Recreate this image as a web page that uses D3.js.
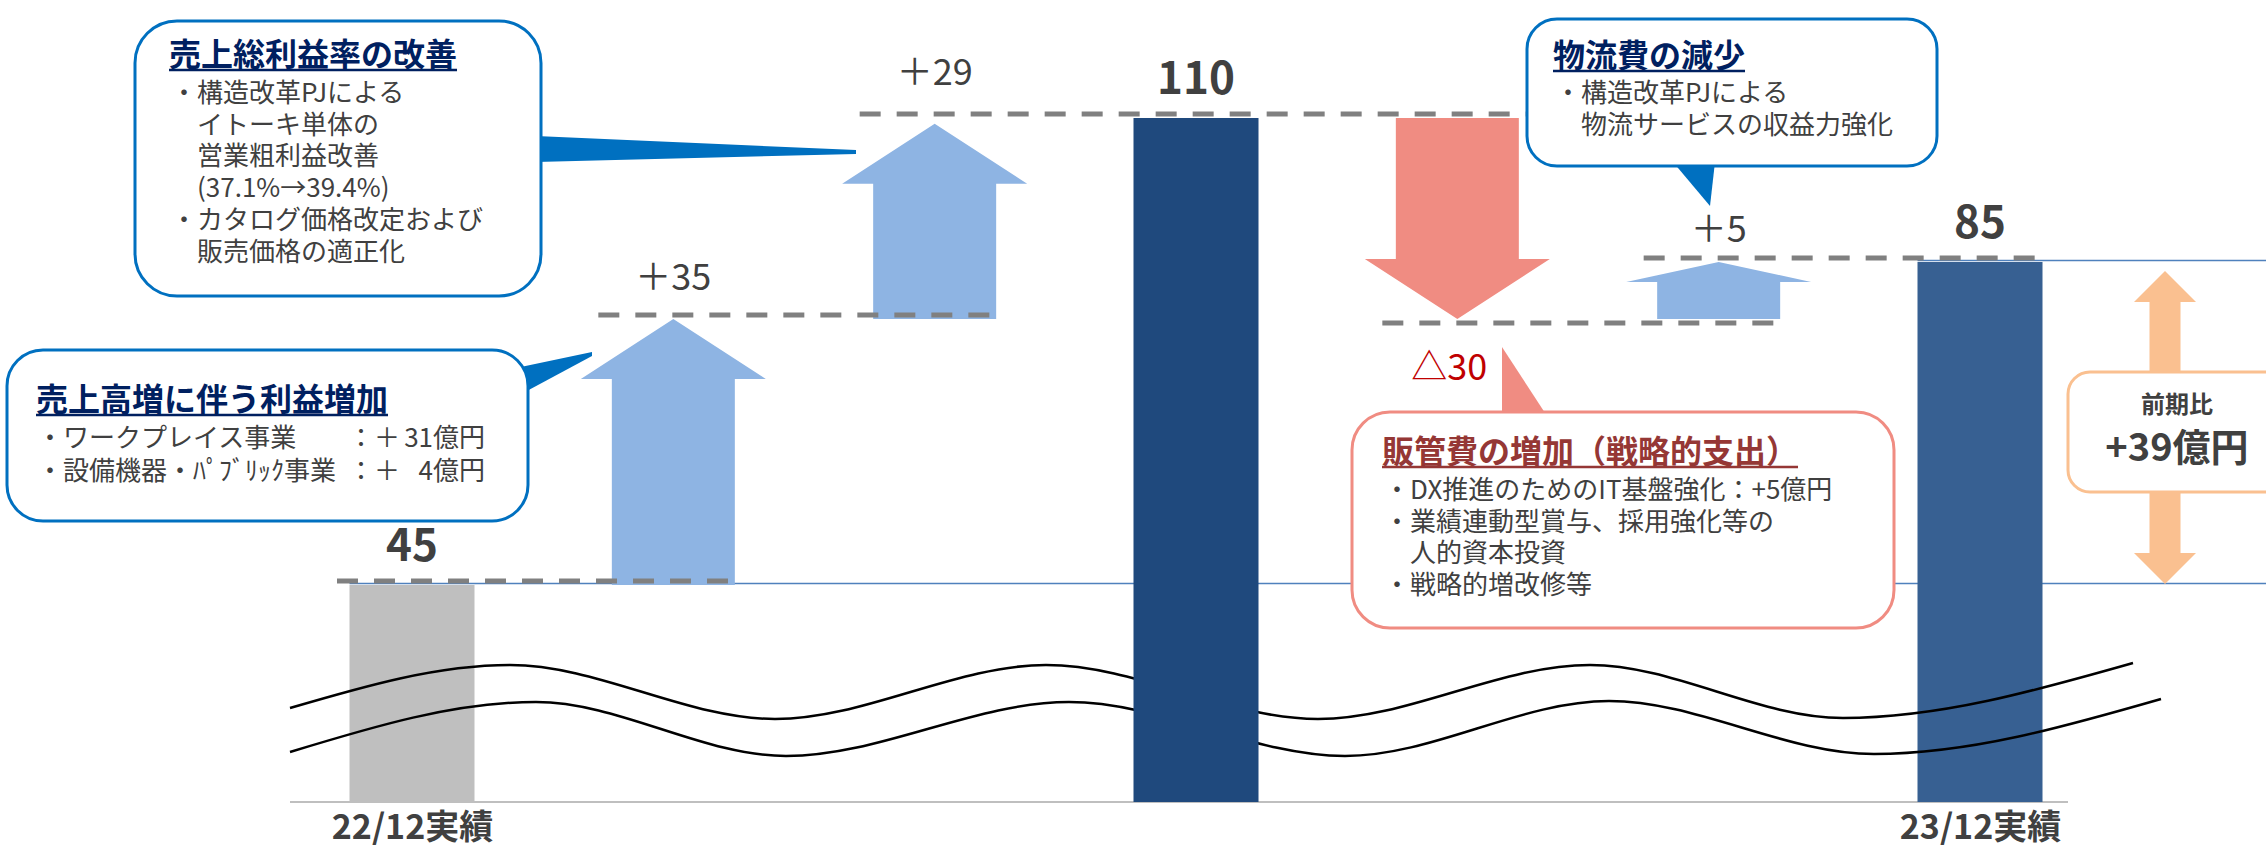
<!DOCTYPE html>
<html lang="ja">
<head>
<meta charset="utf-8">
<title>営業利益 増減要因</title>
<script src="https://cdn.jsdelivr.net/npm/d3@7"></script>
<style>
  html, body { margin: 0; padding: 0; background: #fff; }
  svg { display: block; font-family: "Noto Sans CJK JP", "Noto Sans", sans-serif; }
</style>
</head>
<body>
<svg id="chart" width="2266" height="849"></svg>
<script>
// ---- data (億円) ----
var steps = ['22/12実績', '売上高増', '売上総利益率', '小計', '販管費', '物流費', '23/12実績'];
var stepKinds = ['total', 'delta', 'delta', 'total', 'delta', 'delta', 'total'];
var stepValues = [45, 35, 29, 110, -30, 5, 85];
var stepLabels = ['45', '＋35', '＋29', '110', '△30', '＋5', '85'];
var axisLabels = ['22/12実績', '23/12実績'];
var yoyLabels = ['前期比', '+39億円'];

var grossTitle = '売上総利益率の改善';
var grossLines = ['・構造改革PJによる', '　イトーキ単体の', '　営業粗利益改善', '　(37.1%→39.4%)', '・カタログ価格改定および', '　販売価格の適正化'];
var salesTitle = '売上高増に伴う利益増加';
var salesLines = [['・ワークプレイス事業', '：＋', '31億円'], ['・設備機器・ﾊﾟﾌﾞﾘｯｸ事業', '：＋', '4億円']];
var logiTitle = '物流費の減少';
var logiLines = ['・構造改革PJによる', '　物流サービスの収益力強化'];
var sgaTitle = '販管費の増加（戦略的支出）';
var sgaLines = ['・DX推進のためのIT基盤強化：+5億円', '・業績連動型賞与、採用強化等の', '　人的資本投資', '・戦略的増改修等'];

// ---- layout ----
var W = 2266, H = 849, base = 802;
var colors = { total: ['#BFBFBF', '#1F497D', '#376092'], up: '#8EB4E3', down: '#F08C82',
  dash: '#808080', text: '#404040', navy: '#002060', red: '#C00000', brown: '#953735',
  blue: '#0070C0', orange: '#FAC090', level: '#4F81BD' };
var barW = 125, bodyW = 123, headW = 185;
// offsets of the step labels from the arrow tip
var deltaLabelDy = [-29, -39, 61, -20];

var svg = d3.select('#chart');
svg.append('rect').attr('width', W).attr('height', H).attr('fill', '#fff');

var x = d3.scalePoint().domain(steps).range([412, 1980]);
// axis is broken (wave marks), so the value scale is piecewise
var y = d3.scaleLinear().domain([45, 80, 85, 110]).range([585, 319, 262, 118]);

// running totals
var running = 0;
var rows = steps.map(function (s, i) {
  var r = { key: s, kind: stepKinds[i], value: stepValues[i], label: stepLabels[i], i: i };
  if (r.kind === 'total') { r.from = r.to = r.value; running = r.value; }
  else { r.from = running; r.to = running + r.value; running = r.to; }
  return r;
});
var totals = rows.filter(function (r) { return r.kind === 'total'; });
var deltas = rows.filter(function (r) { return r.kind === 'delta'; });
totals.forEach(function (r, k) { r.color = colors.total[k]; });
deltas.forEach(function (r, k) { r.labelDy = deltaLabelDy[k]; });

// connector lines between steps (merged through a subtotal)
var links = [];
rows.forEach(function (r, i) {
  if (i === rows.length - 1) return;
  var next = rows[i + 1];
  var level = next.kind === 'total' ? next.value : r.to;
  var prev = links[links.length - 1];
  if (prev && prev.level === level && prev.to === r.key) { prev.to = next.key; return; }
  links.push({ from: r.key, to: next.key, level: level, down: r.kind === 'delta' && r.value < 0 });
});

// ---- axis line + level guides ----
svg.append('line').attr('x1', 290).attr('x2', 2068).attr('y1', base).attr('y2', base)
  .attr('stroke', '#BFBFBF').attr('stroke-width', 2);

[totals[0], totals[totals.length - 1]].forEach(function (r) {
  svg.append('line')
    .attr('x1', x(r.key) - barW / 2).attr('x2', W)
    .attr('y1', y(r.value) - 1.5).attr('y2', y(r.value) - 1.5)
    .attr('stroke', colors.level).attr('stroke-width', 1.5);
});

function drawBars(data) {
  svg.selectAll(null).data(data).enter().append('rect')
    .attr('x', function (d) { return x(d.key) - barW / 2; })
    .attr('y', function (d) { return y(d.value); })
    .attr('width', barW)
    .attr('height', function (d) { return base - y(d.value); })
    .attr('fill', function (d) { return d.color; });
}

// start / end bars sit under the break marks, the subtotal on top of them
drawBars([totals[0], totals[totals.length - 1]]);

var waveTop = [[290, 708], [510, 665], [775, 719], [1046, 665], [1318, 719], [1590, 665], [1843, 718], [2133, 663]];
var waveBottom = [[290, 752], [536, 702], [786, 756], [1069, 702], [1345, 756], [1609, 701], [1874, 754], [2161, 699]];
var wave = d3.line().curve(d3.curveMonotoneX);
[waveTop, waveBottom].forEach(function (pts) {
  svg.append('path').attr('d', wave(pts)).attr('fill', 'none')
    .attr('stroke', '#000').attr('stroke-width', 2.5);
});

drawBars(totals.slice(1, -1));

// ---- step arrows ----
function arrowPoints(cx, y0, y1, body, head, headLen) {
  var dir = y1 < y0 ? -1 : 1;
  var hb = y1 - dir * headLen;
  return [[cx - body / 2, y0], [cx - body / 2, hb], [cx - head / 2, hb], [cx, y1],
    [cx + head / 2, hb], [cx + body / 2, hb], [cx + body / 2, y0]];
}

svg.selectAll(null).data(deltas).enter().append('polygon')
  .attr('points', function (d) {
    var y0 = y(d.from), y1 = y(d.to);
    return arrowPoints(x(d.key), y0, y1, bodyW, headW, Math.min(60, Math.abs(y1 - y0) * 0.35)).join(' ');
  })
  .attr('fill', function (d) { return d.value < 0 ? colors.down : colors.up; });

// ---- dashed connectors ----
svg.selectAll(null).data(links).enter().append('line')
  .attr('x1', function (d) { return x(d.from) - 75; })
  .attr('x2', function (d) { return x(d.to) + 70; })
  .attr('y1', function (d) { return y(d.level) + (d.down ? 4 : -4); })
  .attr('y2', function (d) { return y(d.level) + (d.down ? 4 : -4); })
  .attr('stroke', colors.dash).attr('stroke-width', 5).attr('stroke-dasharray', '21 16');

// ---- labels ----
svg.selectAll(null).data(totals).enter().append('text')
  .attr('x', function (d) { return x(d.key); })
  .attr('y', function (d) { return y(d.value) - 24; })
  .attr('text-anchor', 'middle').attr('font-size', 44).attr('font-weight', 700)
  .attr('fill', colors.text)
  .text(function (d) { return d.label; });

svg.selectAll(null).data(deltas).enter().append('text')
  .attr('x', function (d) { return x(d.key) + (d.value < 0 ? -8 : 0); })
  .attr('y', function (d) { return y(d.to) + d.labelDy; })
  .attr('text-anchor', 'middle').attr('font-size', 36)
  .attr('fill', function (d) { return d.value < 0 ? colors.red : colors.text; })
  .text(function (d) { return d.label; });

var axis = svg.append('g').attr('transform', 'translate(0,' + base + ')')
  .call(d3.axisBottom(x).tickValues(axisLabels).tickSize(0).tickPadding(13));
axis.select('.domain').remove();
axis.selectAll('text').attr('font-size', 34).attr('font-weight', 700)
  .attr('fill', colors.text).attr('font-family', '"Noto Sans CJK JP", sans-serif');

// ---- callouts (one text block each) ----
function callout(o) {
  var g = svg.append('g');
  if (o.tail) {
    g.append('polygon').attr('points', o.tail.join(' ')).attr('fill', o.stroke);
  }
  g.append('rect').attr('x', o.x).attr('y', o.y).attr('width', o.w).attr('height', o.h)
    .attr('rx', o.r).attr('ry', o.r).attr('fill', '#fff')
    .attr('stroke', o.stroke).attr('stroke-width', 3);

  var text = g.append('text').attr('font-size', 26).attr('fill', colors.text);
  var t = text.append('tspan').attr('x', o.titleX).attr('y', o.titleY)
    .attr('font-size', 32).attr('font-weight', 700).attr('fill', o.titleColor).text(o.title);
  var len = t.node().getComputedTextLength();
  g.append('line').attr('x1', o.titleX).attr('x2', o.titleX + len)
    .attr('y1', o.titleY + 4).attr('y2', o.titleY + 4)
    .attr('stroke', o.titleColor).attr('stroke-width', 2.5);

  o.lines.forEach(function (line, i) {
    var ly = o.lineY0 + i * o.lineH;
    var parts = typeof line === 'string' ? [line] : line;
    text.append('tspan').attr('x', o.lineX).attr('y', ly).text(parts[0]);
    if (parts.length > 1) {
      text.append('tspan').attr('x', o.colX).attr('y', ly).text(parts[1]);
      text.append('tspan').attr('x', o.endX).attr('y', ly)
        .attr('text-anchor', 'end').text(parts[2]);
    }
  });
}

callout({ x: 135, y: 21, w: 406, h: 275, r: 42, stroke: colors.blue,
  tail: [[536, 136], [856, 150], [856, 154], [536, 162]],
  title: grossTitle, titleColor: colors.navy, titleX: 169, titleY: 66,
  lines: grossLines, lineX: 171, lineY0: 102, lineH: 31.7 });

callout({ x: 7, y: 350, w: 521, h: 171, r: 36, stroke: colors.blue,
  tail: [[516, 368], [592, 352], [592, 356], [525, 392]],
  title: salesTitle, titleColor: colors.navy, titleX: 36, titleY: 411,
  lines: salesLines, lineX: 37, lineY0: 447, lineH: 33, colX: 348, endX: 485 });

callout({ x: 1527, y: 19, w: 410, h: 147, r: 30, stroke: colors.blue,
  tail: [[1673, 162], [1715, 162], [1710, 206]],
  title: logiTitle, titleColor: colors.navy, titleX: 1553, titleY: 67,
  lines: logiLines, lineX: 1555, lineY0: 102, lineH: 32 });

callout({ x: 1352, y: 412, w: 542, h: 216, r: 38, stroke: colors.down,
  tail: [[1502, 347], [1502, 416], [1547, 416]],
  title: sgaTitle, titleColor: colors.brown, titleX: 1382, titleY: 463,
  lines: sgaLines, lineX: 1384, lineY0: 499, lineH: 31.7 });

// ---- year-on-year bracket ----
var last = totals[totals.length - 1], first = totals[0];
var ax = 2165, yTop = y(last.value) + 9, yBot = y(first.value) - 1, yMid = (yTop + yBot) / 2;
svg.append('polygon').attr('fill', colors.orange)
  .attr('points', arrowPoints(ax, yMid, yTop, 31, 62, 31).join(' '));
svg.append('polygon').attr('fill', colors.orange)
  .attr('points', arrowPoints(ax, yMid, yBot, 31, 62, 31).join(' '));
svg.append('rect').attr('x', 2068).attr('y', 372).attr('width', 240).attr('height', 120)
  .attr('rx', 22).attr('ry', 22).attr('fill', '#fff')
  .attr('stroke', colors.orange).attr('stroke-width', 3);
var yoy = svg.append('text').attr('text-anchor', 'middle').attr('font-weight', 700)
  .attr('fill', colors.text);
yoy.append('tspan').attr('x', 2177).attr('y', 413).attr('font-size', 24).text(yoyLabels[0]);
yoy.append('tspan').attr('x', 2177).attr('y', 461).attr('font-size', 38).text(yoyLabels[1]);
</script>
</body>
</html>
